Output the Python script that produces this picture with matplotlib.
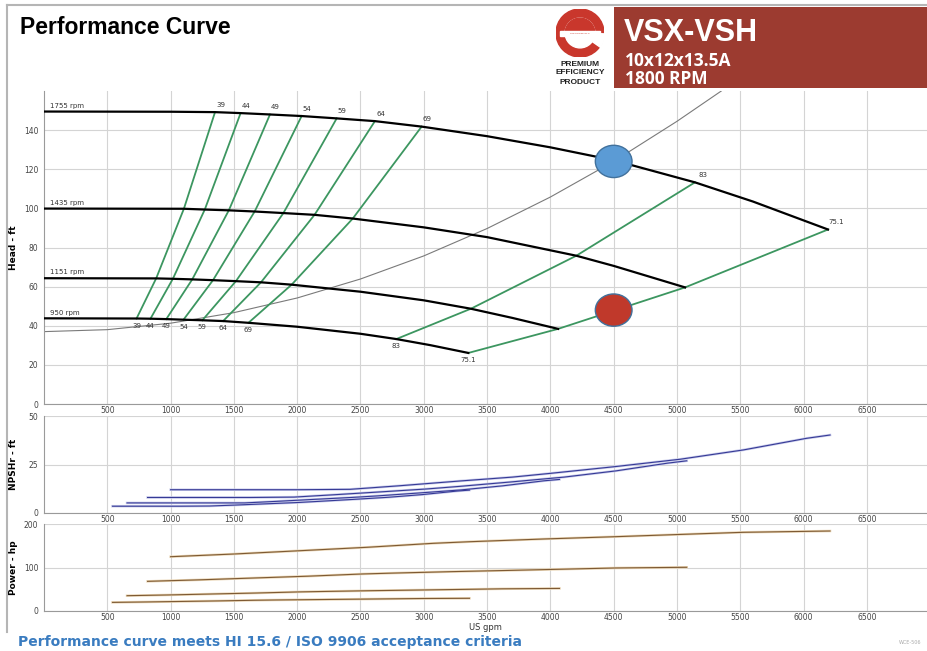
import matplotlib
matplotlib.use("Agg")
import matplotlib.pyplot as plt
from matplotlib.patches import Rectangle, Circle, Wedge, Ellipse
from matplotlib.lines import Line2D

W, H = 927, 651

# --- head curves (US gpm, ft) ---
speeds = ["1755 rpm", "1435 rpm", "1151 rpm", "950 rpm"]
q_1755 = [0, 1000, 1351, 1553, 1785, 2035, 2312, 2614, 2983, 3500, 4000, 4500, 5142, 5600, 6193]
h_1755 = [149.5, 149.4, 149.2, 148.7, 148.0, 147.2, 146.0, 144.6, 141.8, 136.9, 131.2, 124.6, 113.3, 103.5, 89.2]
q_1435 = [0, 1105, 1270, 1460, 1664, 1891, 2137, 2439, 3000, 3500, 4205, 4500, 5064]
h_1435 = [99.9, 99.8, 99.4, 99.0, 98.4, 97.6, 96.7, 94.8, 90.3, 85.3, 75.8, 70.6, 59.6]
q_1151 = [0, 886, 1018, 1171, 1335, 1516, 1714, 1956, 2500, 3000, 3372, 3700, 4061]
h_1151 = [64.3, 64.2, 64.0, 63.7, 63.3, 62.8, 62.2, 61.0, 57.4, 53.0, 48.7, 44.0, 38.4]
q_950 = [0, 731, 841, 966, 1102, 1251, 1415, 1615, 2000, 2500, 2783, 3050, 3352]
h_950 = [43.8, 43.7, 43.6, 43.4, 43.1, 42.8, 42.4, 41.5, 39.5, 35.9, 33.2, 30.1, 26.1]

# --- iso-efficiency lines: points on 1755 / 1435 / 1151 / 950 rpm ---
eff_labels = ["39", "44", "49", "54", "59", "64", "69", "83", "75.1"]
eff_q = [
    [1351, 1105, 886, 731],
    [1553, 1270, 1018, 841],
    [1785, 1460, 1171, 966],
    [2035, 1664, 1335, 1102],
    [2312, 1891, 1516, 1251],
    [2614, 2137, 1714, 1415],
    [2983, 2439, 1956, 1615],
    [5142, 4205, 3372, 2783],
    [6193, 5064, 4061, 3352],
]
eff_h = [
    [149.2, 99.8, 64.2, 43.7],
    [148.7, 99.4, 64.0, 43.6],
    [148.0, 99.0, 63.7, 43.4],
    [147.2, 98.4, 63.3, 43.1],
    [146.0, 97.6, 62.8, 42.8],
    [144.6, 96.7, 62.2, 42.4],
    [141.8, 94.8, 61.0, 41.5],
    [113.3, 75.8, 48.7, 33.2],
    [89.2, 59.6, 38.4, 26.1],
]

# system curve
sys_q = [0, 500, 1000, 1500, 2000, 2500, 3000, 3500, 4000, 4500, 5000, 5350]
sys_h = [37.0, 38.0, 41.3, 46.7, 54.2, 63.9, 75.7, 89.7, 105.8, 124.0, 144.5, 160.0]

# duty points
duty_q = [4500, 4500]
duty_h = [124.0, 48.0]

# --- NPSHr (ft) ---
npsh_q = [
    [1000, 1500, 2000, 2417, 2800, 3286, 3700, 4010, 4510, 5024, 5524, 6024, 6209],
    [818, 1226, 1635, 1976, 2290, 2687, 3025, 3279, 3688, 4108, 4517, 4926, 5077],
    [656, 984, 1312, 1585, 1836, 2155, 2426, 2630, 2958, 3295, 3623, 3950, 4072],
    [541, 812, 1083, 1308, 1516, 1779, 2003, 2171, 2441, 2720, 2990, 3261, 3361],
]
npsh_v = [
    [12.0, 12.0, 12.0, 12.2, 14.0, 16.5, 18.5, 20.5, 23.9, 27.7, 32.5, 38.5, 40.2],
    [8.0, 8.0, 8.0, 8.2, 9.4, 11.0, 12.4, 13.7, 16.0, 18.5, 21.7, 25.7, 26.9],
    [5.2, 5.2, 5.2, 5.2, 6.0, 7.1, 8.0, 8.8, 10.3, 11.9, 14.0, 16.6, 17.3],
    [3.5, 3.5, 3.5, 3.6, 4.1, 4.8, 5.4, 6.0, 7.0, 8.1, 9.5, 11.3, 11.8],
]

# --- Power (hp) ---
pow_q = [
    [1000, 1500, 2022, 2549, 3075, 3365, 3944, 4510, 5024, 5524, 6209],
    [818, 1226, 1653, 2084, 2514, 2752, 3225, 3688, 4108, 4517, 5077],
    [656, 984, 1326, 1672, 2017, 2207, 2587, 2958, 3295, 3623, 4072],
    [541, 812, 1094, 1380, 1664, 1822, 2135, 2441, 2720, 2990, 3361],
]
pow_v = [
    [124.8, 131.0, 138.6, 146.4, 155.6, 159.3, 165.5, 170.8, 176.0, 180.9, 183.9],
    [68.2, 71.6, 75.8, 80.0, 85.1, 87.1, 90.5, 93.4, 96.2, 98.9, 100.5],
    [35.2, 36.9, 39.1, 41.3, 43.9, 44.9, 46.7, 48.2, 49.6, 51.0, 51.9],
    [19.8, 20.8, 22.0, 23.2, 24.7, 25.3, 26.2, 27.1, 27.9, 28.7, 29.2],
]

x_ticks = [500, 1000, 1500, 2000, 2500, 3000, 3500, 4000, 4500, 5000, 5500, 6000, 6500]

fig = plt.figure(figsize=(W / 100, H / 100), dpi=100)
fig.patch.set_facecolor("white")


def rect(x0, y0, x1, y1):
    # pixel box (top-left origin) -> figure fraction
    return [x0 / W, 1 - y1 / H, (x1 - x0) / W, (y1 - y0) / H]


def fx(px):
    return px / W


def fy(py):
    return 1 - py / H


GRID = "#d4d4d4"
TICK = "#444444"


def style_axes(ax, ymax, yticks, ylabel):
    ax.set_xlim(0, 6975)
    ax.set_ylim(0, ymax)
    ax.set_xticks(x_ticks)
    ax.set_xticklabels([str(t) for t in x_ticks])
    ax.set_yticks(yticks)
    ax.grid(True, color=GRID, lw=0.8)
    ax.set_axisbelow(True)
    ax.tick_params(length=0, labelsize=5.5, colors=TICK)
    ax.tick_params(axis="x", pad=1.5)
    ax.tick_params(axis="y", pad=4)
    for s in ["top", "right"]:
        ax.spines[s].set_visible(False)
    for s in ["left", "bottom"]:
        ax.spines[s].set_color("#9a9a9a")
        ax.spines[s].set_linewidth(0.8)
    ax.set_ylabel(ylabel, fontsize=6.5, fontweight="bold")
    ax.yaxis.set_label_coords(-0.029, 0.5)


# ---------------- main head panel ----------------
ax = fig.add_axes(rect(44, 91, 927, 404))
style_axes(ax, 160, [0, 20, 40, 60, 80, 100, 120, 140], "Head - ft")

ax.plot(sys_q, sys_h, color="#7a7a7a", lw=0.8, zorder=2)

head_q = [q_1755, q_1435, q_1151, q_950]
head_h = [h_1755, h_1435, h_1151, h_950]
for q, h, name in zip(head_q, head_h, speeds):
    ax.plot(q, h, color="black", lw=1.6, zorder=3)
    ax.annotate(name, xy=(q[0], h[0]), xytext=(4, 2), textcoords="offset points",
                fontsize=5, color="#333333", ha="left", va="bottom")

for q, h, lab in zip(eff_q, eff_h, eff_labels):
    ax.plot(q, h, color="#3c9660", lw=1.3, zorder=2.5)
    dx = 6 if lab in ("83", "75.1") else 4
    ax.annotate(lab, xy=(q[0], h[0]), xytext=(dx, 3), textcoords="offset points",
                fontsize=5, color="#333333", ha="center", va="bottom")
    ax.annotate(lab, xy=(q[-1], h[-1]), xytext=(0, -3), textcoords="offset points",
                fontsize=5, color="#333333", ha="center", va="top")

duty_colors = ["#5b9bd5", "#c0392b"]
for q, h, c in zip(duty_q, duty_h, duty_colors):
    ax.add_patch(Ellipse((q, h), 290, 16.5, facecolor=c, edgecolor="#41719c",
                         lw=1.0, zorder=5))

# ---------------- NPSH panel ----------------
ax2 = fig.add_axes(rect(44, 416, 927, 513))
style_axes(ax2, 50, [0, 25, 50], "NPSHr - ft")
for q, v in zip(npsh_q, npsh_v):
    ax2.plot(q, v, color="#c9cceb", lw=1.8, zorder=2)
    ax2.plot(q, v, color="#363a96", lw=0.8, zorder=3)

# ---------------- Power panel ----------------
ax3 = fig.add_axes(rect(44, 524, 927, 611))
style_axes(ax3, 200, [0, 100, 200], "Power - hp")
for q, v in zip(pow_q, pow_v):
    ax3.plot(q, v, color="#ead6b6", lw=1.8, zorder=2)
    ax3.plot(q, v, color="#7e5a33", lw=0.8, zorder=3)
ax3.set_xlabel("US gpm", fontsize=6, color="#333333", labelpad=1)

# ---------------- header ----------------
fig.text(fx(20), fy(28), "Performance Curve", fontsize=16.5, fontweight="bold",
         family="Liberation Sans", ha="left", va="center")

fig.patches.append(Rectangle((fx(614), fy(88)), fx(927) - fx(614), fy(7) - fy(88),
                             transform=fig.transFigure, facecolor="#9c3b30",
                             edgecolor="none", zorder=1))
fig.text(fx(624), fy(33), "VSX-VSH", fontsize=22, fontweight="bold", color="white",
         family="Liberation Sans", ha="left", va="center")
fig.text(fx(625), fy(61), "10x12x13.5A", fontsize=12.5, fontweight="bold", color="white",
         family="Open Sans", ha="left", va="center")
fig.text(fx(625), fy(79), "1800 RPM", fontsize=12.5, fontweight="bold", color="white",
         family="Open Sans", ha="left", va="center")

# logo
lax = fig.add_axes(rect(556, 9, 604, 57))
lax.set_xlim(-1, 1)
lax.set_ylim(-1, 1)
lax.set_aspect("equal")
lax.axis("off")
red = "#c9372c"
lax.add_patch(Circle((0, 0), 1.0, color=red))
lax.add_patch(Circle((0, 0), 0.62, color="white"))
lax.add_patch(Wedge((0, 0), 0.62, 0, 180, color=red))
lax.add_patch(Rectangle((-0.82, -0.12), 1.64, 0.22, color="white"))
lax.add_patch(Wedge((0, 0), 1.05, -35, -2, color="white"))
lax.text(0, -0.01, "THE POWER OF e", fontsize=1.6, color=red, ha="center", va="center")

for i, word in enumerate(["PREMIUM", "EFFICIENCY", "PRODUCT"]):
    fig.text(fx(580), fy(64 + 9 * i), word, fontsize=6, fontweight="bold",
             family="Liberation Sans", ha="center", va="center", color="#222222")

# frame around the sheet
fig.add_artist(Line2D([fx(7), fx(927)], [fy(5), fy(5)], color="#b5b5b5", lw=1.5))
fig.add_artist(Line2D([fx(7), fx(7)], [fy(5), fy(632)], color="#b5b5b5", lw=1.5))

# footer
fig.text(fx(18), fy(642), "Performance curve meets HI 15.6 / ISO 9906 acceptance criteria",
         fontsize=10, fontweight="bold", color="#3a7cc0", ha="left", va="center")
fig.text(fx(921), fy(643), "WCE-506", fontsize=3.5, color="#aaaaaa", ha="right", va="center")

fig.savefig("out.png", dpi=100)
